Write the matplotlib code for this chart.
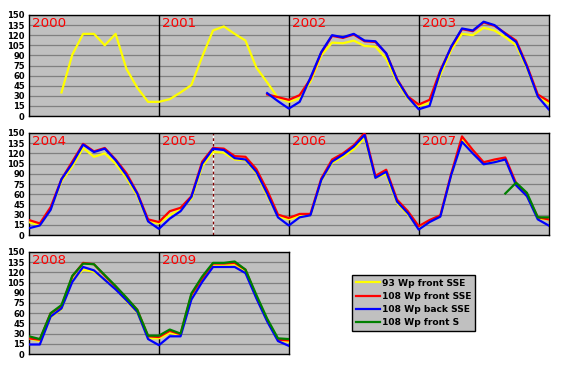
import numpy as np
import matplotlib
matplotlib.use("Agg")
import matplotlib.pyplot as plt

nan = np.nan

# monthly values, Jan 2000 .. Jan 2010
years = [2000, 2001, 2002, 2003, 2004, 2005, 2006, 2007, 2008, 2009]

wp93_front_sse = [
    nan, nan, nan, 35, 91, 122, 122, 105, 122, 70, 42, 21,
    21, 25, 35, 46, 88, 127, 133, 122, 112, 72, 50, 27,
    21, 26, 51, 90, 109, 108, 112, 104, 103, 85, 51, 26,
    15, 19, 61, 98, 122, 120, 131, 127, 117, 105, 71, 29,
    19, 14, 38, 79, 101, 128, 115, 120, 105, 84, 58, 20,
    17, 29, 39, 53, 101, 122, 121, 111, 110, 91, 58, 27,
    23, 28, 29, 80, 106, 115, 126, 143, 84, 90, 47, 30,
    10, 21, 28, 87, 140, 122, 106, 109, 111, 73, 57, 24,
    23, 19, 54, 66, 109, 124, 121, 109, 96, 78, 61, 23,
    23, 31, 28, 85, 110, 130, 130, 132, 121, 83, 49, 21,
    18]

wp108_front_sse = [
    nan, nan, nan, nan, nan, nan, nan, nan, nan, nan, nan, nan,
    nan, nan, nan, nan, nan, nan, nan, nan, nan, nan, 32, 28,
    24, 31, 55, 94, 119, 116, 121, 111, 110, 93, 55, 29,
    17, 24, 68, 102, 129, 126, 139, 134, 123, 112, 75, 32,
    22, 17, 41, 82, 108, 134, 123, 128, 111, 91, 62, 23,
    19, 35, 40, 57, 108, 128, 127, 116, 115, 97, 66, 30,
    25, 31, 31, 83, 111, 120, 132, 150, 87, 96, 52, 35,
    13, 22, 29, 90, 145, 125, 107, 111, 114, 76, 59, 26,
    23, 21, 60, 70, 114, 134, 132, 115, 99, 82, 65, 26,
    25, 34, 29, 87, 111, 133, 133, 134, 124, 84, 50, 21,
    20]

wp108_back_sse = [
    nan, nan, nan, nan, nan, nan, nan, nan, nan, nan, nan, nan,
    nan, nan, nan, nan, nan, nan, nan, nan, nan, nan, 34, 22,
    11, 21, 57, 95, 120, 117, 122, 112, 111, 93, 54, 28,
    10, 15, 66, 103, 130, 127, 140, 135, 122, 110, 73, 29,
    10, 14, 37, 82, 105, 133, 122, 127, 110, 88, 61, 20,
    9, 24, 35, 56, 105, 127, 125, 113, 111, 93, 61, 26,
    14, 26, 29, 81, 108, 118, 130, 147, 84, 93, 49, 32,
    8, 19, 27, 88, 137, 120, 104, 107, 111, 73, 57, 23,
    14, 14, 55, 67, 106, 128, 123, 109, 95, 79, 62, 22,
    13, 26, 26, 80, 106, 128, 128, 128, 119, 82, 48, 19,
    12]

wp108_front_s = [
    nan, nan, nan, nan, nan, nan, nan, nan, nan, nan, nan, nan,
    nan, nan, nan, nan, nan, nan, nan, nan, nan, nan, nan, nan,
    nan, nan, nan, nan, nan, nan, nan, nan, nan, nan, nan, nan,
    nan, nan, nan, nan, nan, nan, nan, nan, nan, nan, nan, nan,
    nan, nan, nan, nan, nan, nan, nan, nan, nan, nan, nan, nan,
    nan, nan, nan, nan, nan, nan, nan, nan, nan, nan, nan, nan,
    nan, nan, nan, nan, nan, nan, nan, nan, nan, nan, nan, nan,
    nan, nan, nan, nan, nan, nan, nan, nan, 61, 77, 62, 26,
    26, 22, 60, 72, 115, 133, 132, 116, 100, 83, 65, 27,
    27, 36, 30, 89, 114, 134, 134, 136, 124, 87, 52, 23,
    22]

series = [
    ("93 Wp front SSE", wp93_front_sse, "#ffff00"),
    ("108 Wp front SSE", wp108_front_sse, "#ff0000"),
    ("108 Wp back SSE", wp108_back_sse, "#0000ff"),
    ("108 Wp front S", wp108_front_s, "#008000"),
]

marker_month = 5 * 12 + 5  # June 2005, dashed line

BG = "#c0c0c0"
W, H = 561, 371
fig = plt.figure(figsize=(W / 100, H / 100), dpi=100)

# (first year index, number of years, top px, bottom px)
rows = [(0, 4, 15, 116), (4, 4, 133, 235), (8, 2, 252, 354)]
x0, ywidth = 29, 129.9

lines = []
for first, nyears, top, bot in rows:
    ax = fig.add_axes([x0 / W, 1 - bot / H, nyears * ywidth / W, (bot - top) / H])
    ax.set_facecolor(BG)
    start = first * 12
    n = nyears * 12
    x = np.arange(n + 1)
    for label, vals, color in series:
        seg = np.array(vals[start:start + n + 1], dtype=float)
        ln, = ax.plot(x, seg, color=color, lw=1.6, label=label, zorder=3)
        if first == 0:
            lines.append(ln)
    for k in range(1, nyears):
        ax.axvline(k * 12, color="black", lw=1, zorder=2)
    for k in range(nyears):
        ax.text(k * 12 + 0.3, 147.5, str(years[first + k]), color="#ff0000",
                fontsize=9.6, va="top", ha="left", zorder=4)
    if start <= marker_month <= start + n:
        ax.axvline(marker_month - start, color="white", lw=1, zorder=2)
        ax.axvline(marker_month - start, color="#800000", lw=1, ls=(0, (2, 2)), zorder=2)
    ax.set_xlim(0, n)
    ax.set_ylim(0, 150)
    ax.set_yticks(range(0, 151, 15))
    ax.set_xticks([])
    ax.yaxis.grid(True, color="#808080", lw=0.9)
    ax.set_axisbelow(True)
    ax.tick_params(axis="y", length=0, pad=3, labelsize=6)
    for t in ax.get_yticklabels():
        t.set_fontweight("bold")
    for sp in ax.spines.values():
        sp.set_color("black")
        sp.set_linewidth(1)

leg = fig.legend(handles=lines, loc="upper left",
                 bbox_to_anchor=(352 / W, 1 - 275 / H),
                 prop={"size": 6.6, "weight": "bold"},
                 frameon=True, fancybox=False, facecolor=BG, edgecolor="black",
                 handlelength=2.6, handletextpad=0.3, labelspacing=0.45,
                 borderpad=0.4, borderaxespad=0)
leg.get_frame().set_linewidth(1)
leg.get_frame().set_alpha(1)

fig.savefig("out.png", dpi=100)
